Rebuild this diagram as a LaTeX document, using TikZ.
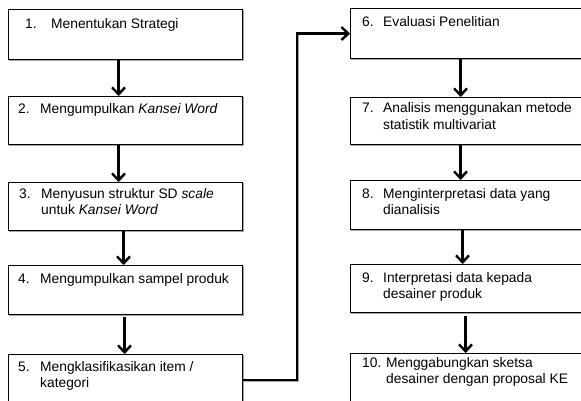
\documentclass[tikz,border=0pt]{standalone}
\usepackage{fontspec}
\setmainfont{Liberation Sans}
\usetikzlibrary{arrows.meta}
\tikzset{
  box/.style={draw=black, line width=1pt, fill=white, anchor=north west, inner sep=0pt,
    preaction={draw=black!35, transform canvas={shift={(0.8pt,-0.8pt)}}}},
  lbox/.style={box, minimum width=234pt},
  rbox/.style={box, minimum width=250pt},
  lbl/.style={anchor=base west, inner sep=0pt, font=\fontsize{13.8}{16.5}\selectfont},
  conn/.style={line width=2.3pt, -{Straight Barb[length=7pt,width=13pt,line width=2.3pt]},
    preaction={draw=black!35, transform canvas={shift={(1pt,-1pt)}}}}
}
\newcommand{\twolines}[2]{\parbox[t]{210pt}{#1\\#2}}
\begin{document}
\begin{tikzpicture}[x=1pt,y=-1pt]
\useasboundingbox (0,0) rectangle (581,401);
\clip (0,0) rectangle (581,401);
% left column
\node[lbox, minimum height=50pt] (b1) at (8,9) {};
\node[lbox, minimum height=48pt] (b2) at (8,96) {};
\node[lbox, minimum height=48pt] (b3) at (8,182) {};
\node[lbox, minimum height=49pt] (b4) at (8,265) {};
\node[lbox, minimum height=60pt] (b5) at (8,354) {};
% right column
\node[rbox, minimum height=50pt] (b6) at (350,8) {};
\node[rbox, minimum height=47pt] (b7) at (350,97) {};
\node[rbox, minimum height=49pt] (b8) at (350,180) {};
\node[rbox, minimum height=48pt] (b9) at (350,264) {};
\node[rbox, minimum height=60pt] (b10) at (350,353) {};
% texts left
\node[lbl] (n1) at (25,29) {1.};
\node[lbl] (t1) at (51,29) {Menentukan Strategi};
\node[lbl] (n2) at (18,114) {2.};
\node[lbl] (t2) at (40,114) {Mengumpulkan \textit{Kansei Word}};
\node[lbl] (n3) at (19,198) {3.};
\node[lbl] (t3) at (41,198) {\twolines{Menyusun struktur SD \textit{scale}}{untuk \textit{Kansei Word}}};
\node[lbl] (n4) at (18,283) {4.};
\node[lbl] (t4) at (40,283) {Mengumpulkan sampel produk};
\node[lbl] (n5) at (18,371) {5.};
\node[lbl] (t5) at (40,371) {\twolines{Mengklasifikasikan item /}{kategori}};
% texts right
\node[lbl] (n6) at (362,27) {6.};
\node[lbl] (t6) at (383,27) {Evaluasi Penelitian};
\node[lbl] (n7) at (362,113) {7.};
\node[lbl] (t7) at (383,113) {\twolines{Analisis menggunakan metode}{statistik multivariat}};
\node[lbl] (n8) at (362,198) {8.};
\node[lbl] (t8) at (383,198) {\twolines{Menginterpretasi data yang}{dianalisis}};
\node[lbl] (n9) at (362,282) {9.};
\node[lbl] (t9) at (383,282) {\twolines{Interpretasi data kepada}{desainer produk}};
\node[lbl] (n10) at (362,367) {10.};
\node[lbl] (t10) at (386,367) {\twolines{Menggabungkan sketsa}{desainer dengan proposal KE}};
% connectors
\draw[conn] ([xshift=-7pt]b1.south) -- ([xshift=-7pt]b2.north);
\draw[conn] ([xshift=-7pt]b2.south) -- ([xshift=-7pt]b3.north);
\draw[conn] ([xshift=-2pt]b3.south) -- ([xshift=-2pt]b4.north);
\draw[conn] ([xshift=-1pt,yshift=-2pt]b4.south) -- ([xshift=-1pt]b5.north);
\draw[conn] ([yshift=-26pt]b5.north east) -- ++(54pt,0) |- (b6.west);
\draw[conn] ([xshift=-15pt]b6.south) -- ([xshift=-15pt]b7.north);
\draw[conn] ([xshift=-15pt]b7.south) -- ([xshift=-15pt]b8.north);
\draw[conn] ([xshift=-13pt]b8.south) -- ([xshift=-13pt]b9.north);
\draw[conn] ([xshift=-10pt,yshift=-3pt]b9.south) -- ([xshift=-10pt]b10.north);
\end{tikzpicture}
\end{document}
